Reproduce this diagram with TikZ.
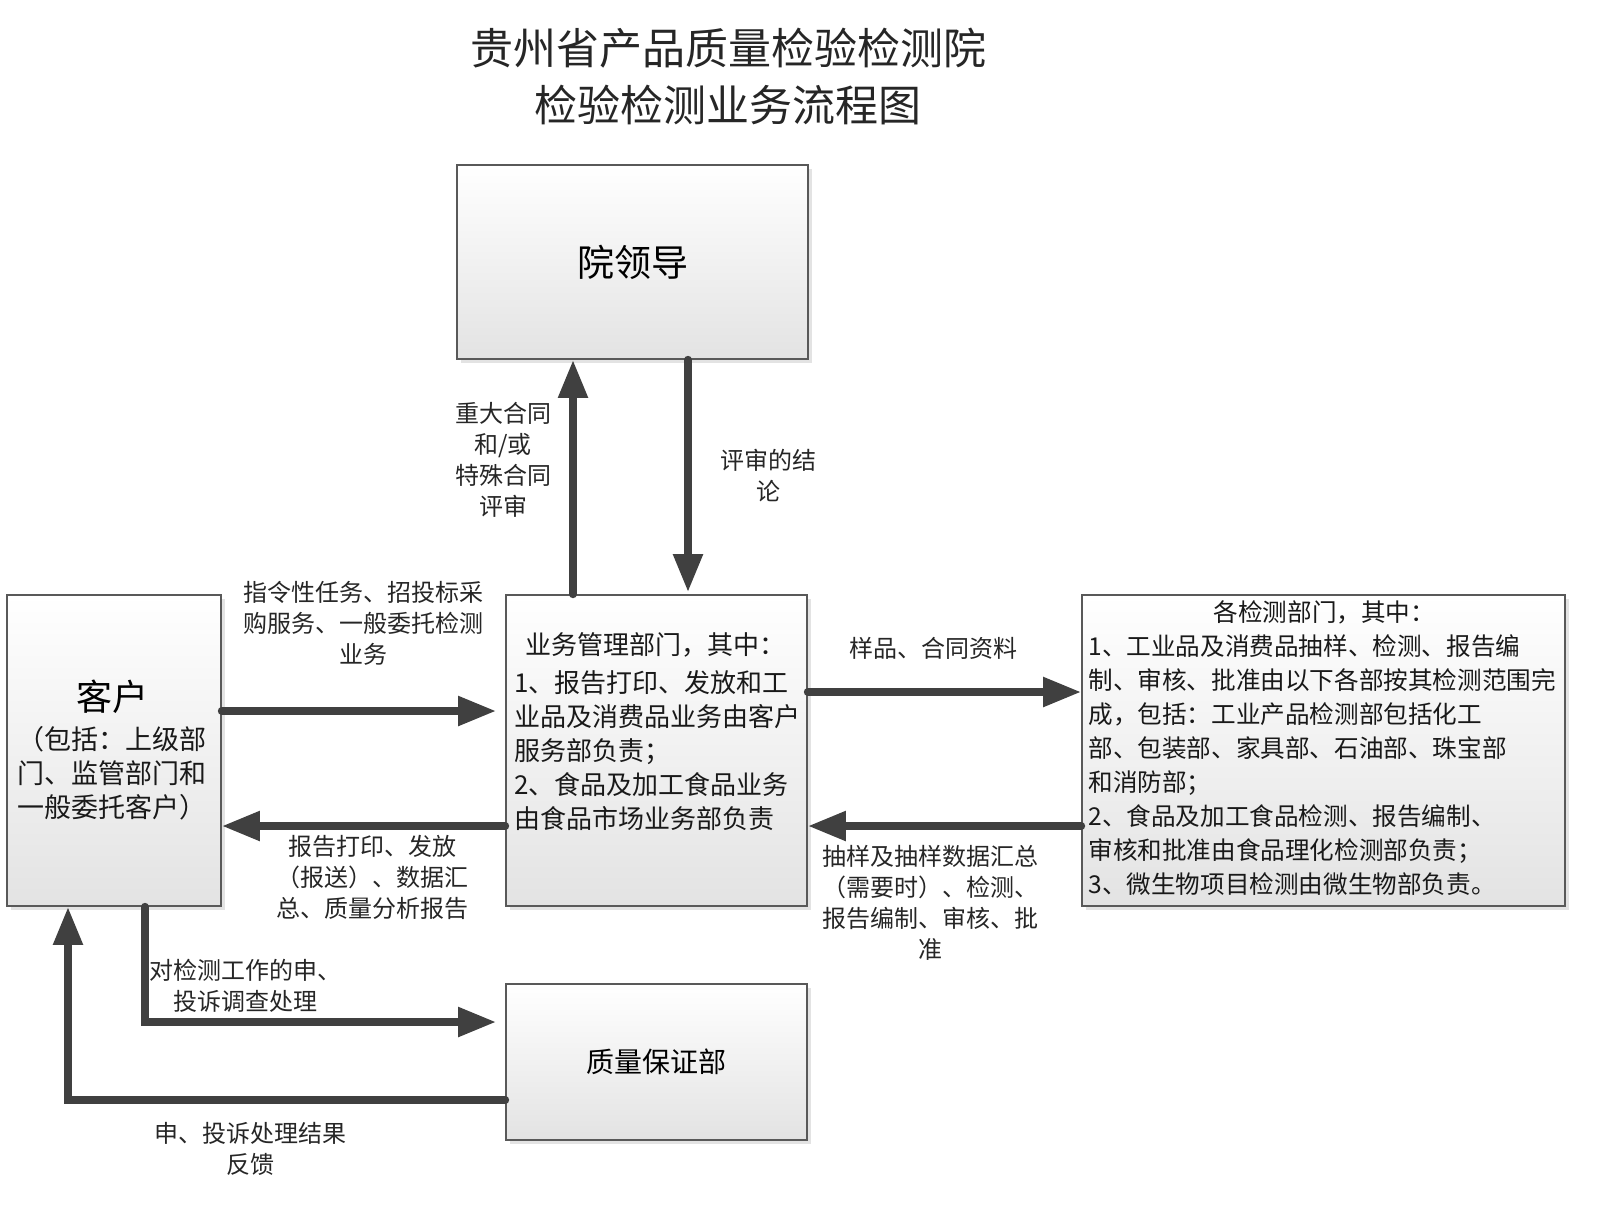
\documentclass[tikz,border=0pt]{standalone}
\usepackage{fontspec}
\setmainfont{Noto Sans CJK SC}
\usetikzlibrary{arrows.meta,shadows}

\begin{document}
\begin{tikzpicture}[x=0.5pt,y=-0.5pt,
  box/.style={draw=black!65, line width=0.8pt, top color=white, bottom color=black!11, drop shadow={shadow xshift=2pt, shadow yshift=-2pt, fill=black!22}},
  flow/.style={draw=black!75, line width=4pt, line cap=round, -{Triangle[length=19pt,width=14pt]}},
  lbl/.style={font=\fontsize{12}{15.5}\selectfont, align=center, inner sep=0pt, text=black!85},
  txt/.style={font=\fontsize{#1}{17}\selectfont, align=left, inner sep=0pt, text=black!90}]
\useasboundingbox (0,0) rectangle (1600,1227);
\node[font=\fontsize{21.5}{28.5}\selectfont, align=center, text=black!85] (title) at (728,76) {贵州省产品质量检验检测院\\检验检测业务流程图};
\node[box, minimum width=175.5pt, minimum height=97pt, font=\fontsize{18.5}{22}\selectfont] (lead) at (632.5,262) {院领导};
\node[box, minimum width=107pt, minimum height=155.5pt] (client) at (114,750.5) {};
\node[box, minimum width=150.5pt, minimum height=155.5pt] (biz) at (656.5,750.5) {};
\node[box, minimum width=241.5pt, minimum height=155.5pt] (test) at (1323.5,750.5) {};
\node[box, minimum width=150.5pt, minimum height=78pt, font=\fontsize{14}{17}\selectfont] (qa) at (656.5,1062) {质量保证部};
\node[font=\fontsize{18}{21}\selectfont, inner sep=0pt] (clientname) at (112,697) {客户};
\node[txt=13.5, align=center] (clienttext) at (112,773) {（包括：上级部\\门、监管部门和\\一般委托客户）};
\node[txt=13, text width=141pt, anchor=west] (biztext) at (514,732) {\makebox[141pt][c]{业务管理部门，其中：}\\[2pt]1、报告打印、发放和工\\业品及消费品业务由客户\\服务部负责；\\2、食品及加工食品业务\\由食品市场业务部负责};
\node[txt=12.3, text width=236pt, anchor=west] (testtext) at (1088,748) {\makebox[236pt][c]{各检测部门，其中：}\\1、工业品及消费品抽样、检测、报告编\\制、审核、批准由以下各部按其检测范围完\\成，包括：工业产品检测部包括化工\\部、包装部、家具部、石油部、珠宝部\\和消防部；\\2、食品及加工食品检测、报告编制、\\审核和批准由食品理化检测部负责；\\3、微生物项目检测由微生物部负责。};
\draw[flow] ([xshift=-41.75pt]biz.north) -- ([xshift=-41.75pt]biz.north |- lead.south);
\draw[flow, shorten >=1pt] ([xshift=27.75pt]lead.south) -- ([xshift=27.75pt]lead.south |- biz.north);
\draw[flow, shorten >=4.5pt] ([yshift=19.75pt]client.east) -- ([yshift=19.75pt]client.east -| biz.west);
\draw[flow] ([yshift=-37.75pt]biz.west) -- ([yshift=-37.75pt]biz.west -| client.east);
\draw[flow] ([yshift=29.25pt]biz.east) -- ([yshift=29.25pt]biz.east -| test.west);
\draw[flow] ([yshift=-37.75pt]test.west) -- ([yshift=-37.75pt]test.west -| biz.east);
\draw[flow, shorten >=4.5pt] ([xshift=15.5pt]client.south) |- ([yshift=20pt]qa.west);
\draw[flow] ([yshift=-19pt]qa.west) -| ([xshift=-23pt]client.south);
\node[lbl] (order) at (363,623) {指令性任务、招投标采\\购服务、一般委托检测\\业务};
\node[lbl] (report) at (372,877) {报告打印、发放\\（报送）、数据汇\\总、质量分析报告};
\node[lbl] (review) at (503,460) {重大合同\\和/或\\特殊合同\\评审};
\node[lbl] (result) at (768,476) {评审的结\\论};
\node[lbl] (sample) at (933,648) {样品、合同资料};
\node[lbl] (testing) at (930,903) {抽样及抽样数据汇总\\（需要时）、检测、\\报告编制、审核、批\\准};
\node[lbl] (complain) at (245,986) {对检测工作的申、\\投诉调查处理};
\node[lbl] (feedback) at (250,1149) {申、投诉处理结果\\反馈};
\end{tikzpicture}
\end{document}
